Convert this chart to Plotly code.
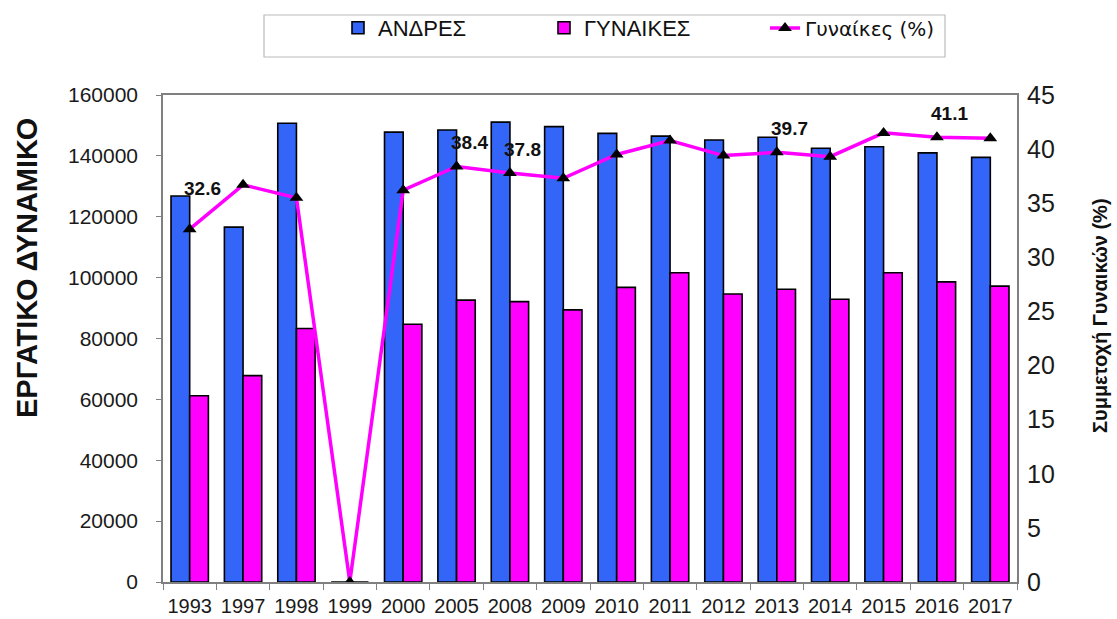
import plotly.graph_objects as go

years = ["1993", "1997", "1998", "1999", "2000", "2005", "2008", "2009",
         "2010", "2011", "2012", "2013", "2014", "2015", "2016", "2017"]
men = [126800, 116600, 150700, 0, 147800, 148500, 151100, 149600,
       147400, 146500, 145200, 146100, 142500, 143000, 141000, 139500]
women = [61200, 67800, 83300, 0, 84700, 92600, 92100, 89400,
         96800, 101600, 94600, 96200, 92900, 101600, 98600, 97200]
women_pct = [32.6, 36.7, 35.5, 0, 36.2, 38.4, 37.8, 37.3,
             39.5, 40.8, 39.4, 39.7, 39.3, 41.5, 41.1, 41.0]
labelled_years = ["1993", "2005", "2008", "2013", "2016"]

left_title = "ΕΡΓΑΤΙΚΟ ΔΥΝΑΜΙΚΟ"
right_title = "Συμμετοχή Γυναικών (%)"

BLUE = "#3366F8"
MAGENTA = "#FF00FF"
FONT = "Liberation Sans, Arial, sans-serif"

fig = go.Figure()
fig.add_trace(go.Bar(x=years, y=men, name="ΑΝΔΡΕΣ", marker_color=BLUE,
                     marker_line=dict(color="black", width=1.6), legend="legend",
                     showlegend=True))
fig.add_trace(go.Bar(x=years, y=women, name="ΓΥΝΑΙΚΕΣ", marker_color=MAGENTA,
                     marker_line=dict(color="black", width=1.6), legend="legend2",
                     showlegend=True))
fig.add_trace(go.Scatter(x=years, y=women_pct, name="Γυναίκες (%)", yaxis="y2",
                         mode="lines+markers",
                         line=dict(color=MAGENTA, width=3.5),
                         marker=dict(symbol="triangle-up", color="black", size=12),
                         legend="legend3", showlegend=True))

for yr in labelled_years:
    i = years.index(yr)
    fig.add_annotation(x=i, y=women_pct[i], xref="x", yref="y2",
                       text=f"<b>{women_pct[i]:.1f}</b>",
                       showarrow=False, xanchor="left", yanchor="bottom",
                       xshift=-8, yshift=(28 if i == 0 else 11),
                       font=dict(family=FONT, size=19, color="#111"))

fig.add_annotation(xref="paper", yref="paper", x=(27 - 163) / 854, y=(582 - 268) / 487,
                   text=f"<b>{left_title}</b>", textangle=-90, showarrow=False,
                   xanchor="center", yanchor="middle",
                   font=dict(family=FONT, size=29, color="#111"))
fig.add_annotation(xref="paper", yref="paper", x=(1100 - 163) / 854, y=(582 - 316) / 487,
                   text=f"<b>{right_title}</b>", textangle=-90, showarrow=False,
                   xanchor="center", yanchor="middle",
                   font=dict(family=FONT, size=20, color="#111"))

# legend frame
fig.add_shape(type="rect", xref="paper", yref="paper",
              x0=(264 - 163) / 854, x1=(945 - 163) / 854,
              y0=(582 - 57) / 487, y1=(582 - 15) / 487,
              line=dict(color="#bbbbbb", width=1.2), fillcolor="rgba(0,0,0,0)")

leg_y = (582 - 28) / 487
leg_common = dict(orientation="h", yanchor="middle", xanchor="left", y=leg_y,
                  bgcolor="rgba(0,0,0,0)", borderwidth=0, visible=True)
fig.update_layout(
    showlegend=True,
    legend=dict(x=(338 - 163) / 854, font=dict(family=FONT, size=22, color="#111"), **leg_common),
    legend2=dict(x=(544 - 163) / 854, font=dict(family=FONT, size=22, color="#111"), **leg_common),
    legend3=dict(x=(765 - 163) / 854, font=dict(family="DejaVu Sans", size=20, color="#111"), **leg_common),
)

fig.update_layout(
    width=1117, height=619,
    margin=dict(l=163, r=100, t=95, b=37, autoexpand=False),
    paper_bgcolor="white", plot_bgcolor="white",
    barmode="group", bargap=0.3, bargroupgap=0,
    font=dict(family=FONT, color="#1a1a1a"),
    xaxis=dict(type="category", range=[-0.5, len(years) - 0.5],
               showgrid=False, showline=True, mirror=True,
               linecolor="#808080", linewidth=1.5, tickangle=0,
               ticks="outside", tickson="boundaries", ticklen=6, tickcolor="#808080",
               tickfont=dict(family=FONT, size=20, color="#1a1a1a"),
               ticklabelstandoff=5),
    yaxis=dict(range=[0, 160000], dtick=20000, showgrid=False, zeroline=False,
               showline=True, mirror=True, linecolor="#808080", linewidth=1.5,
               ticks="outside", ticklen=5, tickcolor="#808080",
               tickformat="d", exponentformat="none",
               tickfont=dict(family=FONT, size=21, color="#1a1a1a"),
               ticklabelstandoff=14),
    yaxis2=dict(range=[0, 45], dtick=5, overlaying="y", side="right",
                showgrid=False, zeroline=False, showline=False, ticks="",
                tickfont=dict(family=FONT, size=25, color="#1a1a1a"),
                ticklabelstandoff=9),
)

fig.write_html("out.html", config={"displayModeBar": False},
               post_script="document.body.style.margin='0';document.body.style.overflow='hidden';")
